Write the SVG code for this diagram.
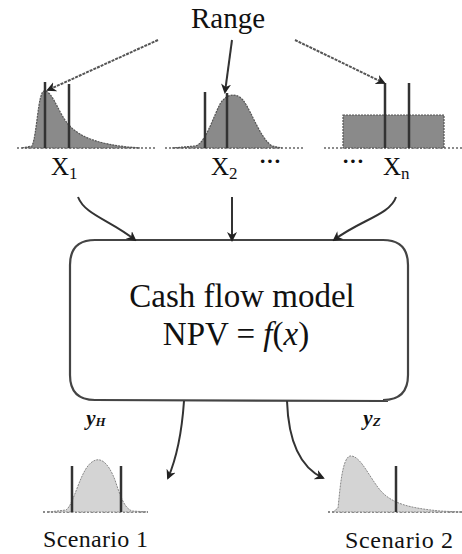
<svg xmlns="http://www.w3.org/2000/svg" width="462" height="554" viewBox="0 0 462 554">
<style>
.t{font-family:"Liberation Serif",serif;fill:#111}
.dark{fill:#8a8a8a;stroke:#555;stroke-width:1.2;stroke-dasharray:2 1}
.light{fill:#d4d4d4;stroke:#888;stroke-width:1;stroke-dasharray:2 1}
.vl{stroke:#333;stroke-width:2.5}
.base{stroke:#666;stroke-width:1.5;stroke-dasharray:2 2}
.con{fill:none;stroke:#333;stroke-width:2}
.dash{fill:none;stroke:#555;stroke-width:2;stroke-dasharray:3 1}
</style>
<defs>
<marker id="ah" markerWidth="10" markerHeight="10" refX="8" refY="5" orient="auto" markerUnits="userSpaceOnUse">
<path d="M0,0 L10,5 L0,10 L3,5 Z" fill="#222"/>
</marker>
</defs>
<g id="range">
<text class="t" x="228" y="28" font-size="29" text-anchor="middle">Range</text>
</g>
<g id="dist1">
<line class="base" x1="17" y1="148" x2="155" y2="148"/>
<path class="dark" d="M22,148 L32,146 C37,135 38,92 44,91 C52,90 58,112 68,124 C80,138 100,144 128,147 L140,148 Z"/>
<line class="vl" x1="45" y1="82" x2="45" y2="148"/>
<line class="vl" x1="69" y1="84" x2="69" y2="148"/>
<text class="t" x="51" y="175" font-size="25">X<tspan font-size="17" dy="4">1</tspan></text>
</g>
<g id="dist2">
<line class="base" x1="165" y1="148" x2="303" y2="148"/>
<path class="dark" d="M172,148 L195,146 C205,144 212,120 220,104 C226,94 236,92 243,100 C252,112 260,138 272,146 L282,148 Z"/>
<line class="vl" x1="205" y1="92" x2="205" y2="148"/>
<line class="vl" x1="227" y1="93" x2="227" y2="148"/>
<text class="t" x="211" y="175" font-size="25">X<tspan font-size="17" dy="4">2</tspan></text>
<text class="t" x="270" y="168" font-size="22" font-weight="bold" text-anchor="middle">···</text>
</g>
<g id="dist3">
<line class="base" x1="324" y1="148" x2="462" y2="148"/>
<rect class="dark" x="343" y="115" width="101" height="33" stroke-dasharray="none"/>
<line class="vl" x1="385" y1="83" x2="385" y2="148"/>
<line class="vl" x1="409" y1="83" x2="409" y2="148"/>
<text class="t" x="353" y="168" font-size="22" font-weight="bold" text-anchor="middle">···</text>
<text class="t" x="383" y="175" font-size="25">X<tspan font-size="17" dy="4">n</tspan></text>
</g>
<g id="model">
<path d="M95,240 L383,240 Q408,240 408,265 L408,375 Q408,400 383,400 M70,265 Q70,240 95,240 M70,265 L70,375 Q70,400 95,400 L388,401" fill="none" stroke="#444" stroke-width="2.2"/>
<text class="t" x="242" y="307" font-size="33" text-anchor="middle">Cash flow model</text>
<text class="t" x="236" y="345" font-size="33" text-anchor="middle">NPV = <tspan font-style="italic">f</tspan>(<tspan font-style="italic">x</tspan>)</text>
</g>
<g id="scenario1">
<line class="base" x1="43" y1="512" x2="148" y2="512"/>
<path class="light" d="M48,512 L66,510 C74,505 80,470 92,462 C100,456 108,462 115,480 C120,495 124,508 132,511 L148,512 Z"/>
<line class="vl" x1="72" y1="466" x2="72" y2="512" stroke-width="2"/>
<line class="vl" x1="121" y1="466" x2="121" y2="512" stroke-width="2"/>
<text class="t" x="96" y="425" font-size="21" font-style="italic" font-weight="bold" text-anchor="middle">y<tspan font-size="13" dy="1">H</tspan></text>
<text class="t" x="43" y="547" font-size="24" textLength="105">Scenario 1</text>
</g>
<g id="scenario2">
<line class="base" x1="328" y1="512" x2="462" y2="512"/>
<path class="light" d="M333,512 L338,508 C340,490 342,458 350,456 C360,455 368,475 380,490 C392,504 410,508 440,511 L460,512 Z"/>
<line class="vl" x1="396" y1="466" x2="396" y2="512" stroke-width="2"/>
<text class="t" x="372" y="425" font-size="21" font-style="italic" font-weight="bold" text-anchor="middle">y<tspan font-size="13" dy="1">Z</tspan></text>
<text class="t" x="345" y="548" font-size="24" textLength="108">Scenario 2</text>
</g>
<g id="connectors">
<path class="dash" d="M158,40 L48,90" marker-end="url(#ah)"/>
<path class="con" d="M232,40 L225,92" marker-end="url(#ah)"/>
<path class="dash" d="M295,40 L384,83" marker-end="url(#ah)"/>
<path class="con" d="M78,197 C85,215 110,220 135,240" marker-end="url(#ah)"/>
<path class="con" d="M232,197 L232,240" marker-end="url(#ah)"/>
<path class="con" d="M396,197 C390,215 360,220 334,240" marker-end="url(#ah)"/>
<path class="con" d="M184,401 C182,430 178,455 168,478" marker-end="url(#ah)"/>
<path class="con" d="M287,401 C288,430 295,465 323,478" marker-end="url(#ah)"/>
</g>
</svg>
